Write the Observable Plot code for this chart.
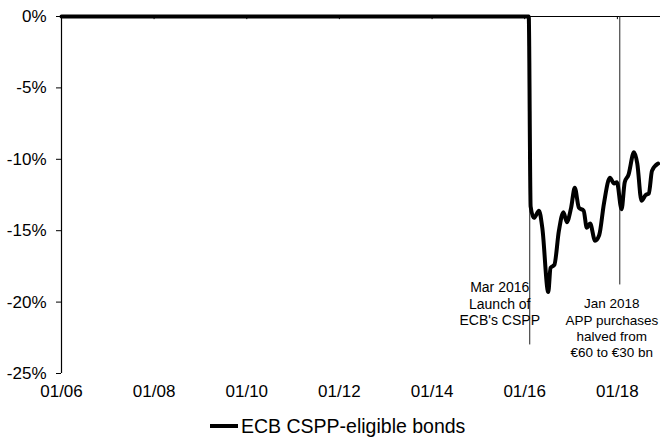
<!DOCTYPE html>
<html><head><meta charset="utf-8">
<script src="https://cdn.jsdelivr.net/npm/d3@7"></script>
<script src="https://cdn.jsdelivr.net/npm/@observablehq/plot@0.6"></script>
<style>
body{margin:0;background:#fff;font-family:"Liberation Sans",Arial,sans-serif;}
#chart{width:660px;height:405px;overflow:hidden;}
#legend{height:34px;position:relative;}
#legend .sw{position:absolute;left:210px;top:19px;width:28px;height:4px;background:#000;}
#legend .lb{position:absolute;left:241px;top:10px;font-size:19.5px;line-height:22px;color:#000;white-space:nowrap;}
</style></head><body>
<div id="chart"></div>
<div id="legend"><span class="sw"></span><span class="lb"></span></div>
<script>
const seriesName = "ECB CSPP-eligible bonds";
const dates = ["2006-01-01","2016-02-02","2016-02-17","2016-03-14","2016-04-23","2016-05-19","2016-07-05","2016-07-23","2016-08-22","2016-09-27","2016-11-02","2016-11-28","2017-01-01","2017-01-30","2017-03-04","2017-04-10","2017-05-05","2017-05-31","2017-07-09","2017-08-11","2017-09-17","2017-11-03","2017-12-06","2017-12-28","2018-02-03","2018-02-28","2018-03-29","2018-05-12","2018-06-07","2018-07-10","2018-08-12","2018-09-06","2018-10-01","2018-11-18"];
const values = [0,0,-13.3,-14.1,-13.6,-14.8,-19.3,-17.6,-17.4,-15.0,-13.7,-14.4,-13.4,-12.0,-13.4,-13.6,-14.8,-14.5,-15.7,-15.3,-13.1,-11.3,-11.7,-11.6,-13.5,-11.6,-11.1,-9.5,-10.3,-12.9,-12.5,-12.4,-10.8,-10.3];
const xTickDates = ["2006-01-01","2008-01-01","2010-01-01","2012-01-01","2014-01-01","2016-01-01","2018-01-01"];
const xDomain = ["2006-01-01","2018-12-07"];
const yTicks = [0,-5,-10,-15,-20,-25];
const eventDates = ["2016-02-10","2018-01-20"];
const eventLabels = ["Mar 2016\nLaunch of\nECB's CSPP","Jan 2018\nAPP purchases\nhalved from\n€60 to €30 bn"];

const P = d3.isoParse;
const data = dates.map((d,i)=>({date:P(d), value:values[i]}));
const ticks = xTickDates.map(P);
const ev = eventDates.map((d,i)=>({date:P(d), label:eventLabels[i]}));

const chart = Plot.plot({
  width:660, height:405,
  marginLeft:61, marginRight:0, marginTop:16, marginBottom:32,
  style:{fontFamily:'"Liberation Sans",Arial,sans-serif', fontSize:"17px", color:"#000", background:"#fff", overflow:"hidden"},
  x:{type:"utc", domain:xDomain.map(P)},
  y:{domain:[-25,0]},
  marks:[
    Plot.axisY({ticks:yTicks, tickFormat:d=>d+"%", tickSize:5, tickPadding:10, label:null, fontSize:17}),
    Plot.axisX({ticks:ticks, tickFormat:d3.utcFormat("%m/%y"), tickSize:0, tickPadding:11, label:null, fontSize:17}),
    Plot.ruleX([ticks[0]], {y1:0, y2:-25, stroke:"#000", strokeWidth:1.2}),
    Plot.ruleY([0], {stroke:"#000", strokeWidth:1.2}),
    Plot.ruleX(ticks, {y1:0, y2:-0.22, stroke:"#000", strokeWidth:1}),
    Plot.ruleX([ev[0]], {x:"date", y1:0, y2:-23.0, stroke:"#222", strokeWidth:1}),
    Plot.ruleX([ev[1]], {x:"date", y1:0, y2:-18.8, stroke:"#222", strokeWidth:1}),
    Plot.text([ev[0]], {x:"date", y:()=>-18.5, text:"label", dx:-30, lineAnchor:"top", textAnchor:"middle", fontSize:14, lineHeight:1.18, fill:"#000"}),
    Plot.text([ev[1]], {x:"date", y:()=>-19.6, text:"label", dx:-8, lineAnchor:"top", textAnchor:"middle", fontSize:13.5, lineHeight:1.22, fill:"#000"}),
    Plot.line(data, {x:"date", y:"value", stroke:"#000", strokeWidth:4, curve:"monotone-x"})
  ]
});
document.getElementById("chart").appendChild(chart);
document.querySelector("#legend .lb").textContent = seriesName;
</script>
</body></html>
